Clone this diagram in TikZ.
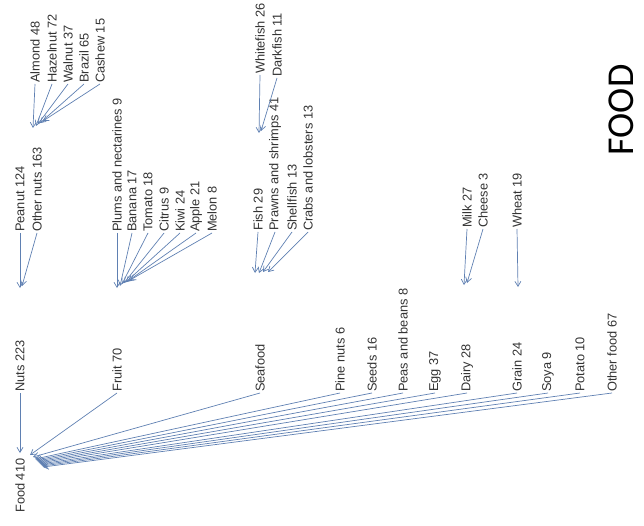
\documentclass[tikz,border=0pt]{standalone}
\usepackage{fontspec}
\setmainfont{Liberation Sans}
\newfontfamily\titlefont{Carlito}
\usetikzlibrary{arrows.meta}
\definecolor{linkblue}{RGB}{95,128,178}

\begin{document}
\begin{tikzpicture}[x=1pt,y=-1pt,
  lbl/.style={rotate=90,anchor=west,inner sep=1pt,text=black!80,font=\fontsize{12.8}{14}\selectfont},
  edge/.style={draw=linkblue,line width=0.7pt,-{Straight Barb[length=5pt,width=6pt]}}]
\useasboundingbox (0,0) rectangle (644,526);

\node[lbl] (food) at (20,514) {Food 410};

\node[lbl] (nuts) at (20,393) {Nuts 223};
\node[lbl] (fruit) at (117,393) {Fruit 70};
\node[lbl] (seafood) at (260,393) {Seafood};
\node[lbl] (pine) at (340,393) {Pine nuts 6};
\node[lbl] (seeds) at (372,393) {Seeds 16};
\node[lbl] (peas) at (403,393) {Peas and beans 8};
\node[lbl] (egg) at (435,393) {Egg 37};
\node[lbl] (dairy) at (467,393) {Dairy 28};
\node[lbl] (grain) at (517,393) {Grain 24};
\node[lbl] (soya) at (548,393) {Soya 9};
\node[lbl] (potato) at (580,393) {Potato 10};
\node[lbl] (otherfood) at (612,393) {Other food 67};

\node[lbl] (peanut) at (20,233) {Peanut 124};
\node[lbl] (othernuts) at (37,233) {Other nuts 163};

\node[lbl] (plums) at (117,233) {Plums and nectarines 9};
\node[lbl] (banana) at (132,233) {Banana 17};
\node[lbl] (tomato) at (148,233) {Tomato 18};
\node[lbl] (citrus) at (164,233) {Citrus 9};
\node[lbl] (kiwi) at (180,233) {Kiwi 24};
\node[lbl] (apple) at (196,233) {Apple 21};
\node[lbl] (melon) at (212,233) {Melon 8};

\node[lbl] (fish) at (258,232) {Fish 29};
\node[lbl] (prawns) at (275,232) {Prawns and shrimps 41};
\node[lbl] (shellfish) at (292,232) {Shellfish 13};
\node[lbl] (crabs) at (308,232) {Crabs and lobsters 13};

\node[lbl] (milk) at (467,229) {Milk 27};
\node[lbl] (cheese) at (483,229) {Cheese 3};
\node[lbl] (wheat) at (517,229) {Wheat 19};

\node[lbl] (almond) at (35,84) {Almond 48};
\node[lbl] (hazelnut) at (52,84) {Hazelnut 72};
\node[lbl] (walnut) at (68,84) {Walnut 37};
\node[lbl] (brazil) at (84,84) {Brazil 65};
\node[lbl] (cashew) at (100,84) {Cashew 15};

\node[lbl] (whitefish) at (260,75) {Whitefish 26};
\node[lbl] (darkfish) at (277,78) {Darkfish 11};

\node[rotate=90,inner sep=0pt,font=\titlefont\fontsize{38}{42}\selectfont] (title) at (621,110) {FOOD};

% arrow tips
\coordinate (a1) at (20,453);
\coordinate (a2) at (30,455);
\coordinate (a3) at (33,457);
\coordinate (a4) at (35,459);
\coordinate (a5) at (36,460);
\coordinate (a6) at (37,461);
\coordinate (a7) at (38,462);
\coordinate (a8) at (39,463);
\coordinate (a9) at (40,464);
\coordinate (a10) at (41,465);
\coordinate (a11) at (42,466);
\coordinate (a12) at (43,467);

\coordinate (n1) at (20,288);
\coordinate (n2) at (22,286);
\coordinate (o1) at (33,128);
\coordinate (o2) at (36,126);
\coordinate (o3) at (38,124);
\coordinate (o4) at (40,123);
\coordinate (o5) at (43,121);

\coordinate (r1) at (117,288);
\coordinate (r2) at (120,286);
\coordinate (r3) at (122,284);
\coordinate (r4) at (124,283);
\coordinate (r5) at (126,282);
\coordinate (r6) at (128,281);
\coordinate (r7) at (130,280);

\coordinate (s1) at (255,273);
\coordinate (s2) at (259,273);
\coordinate (s3) at (263,272);
\coordinate (s4) at (268,272);
\coordinate (w1) at (259,133);
\coordinate (w2) at (261,131);

\coordinate (d1) at (464,285);
\coordinate (d2) at (467,283);
\coordinate (g1) at (518,287);

\foreach \c/\t in {nuts/a1,fruit/a2,seafood/a3,pine/a4,seeds/a5,peas/a6,egg/a7,dairy/a8,grain/a9,soya/a10,potato/a11,otherfood/a12,
  peanut/n1,othernuts/n2,almond/o1,hazelnut/o2,walnut/o3,brazil/o4,cashew/o5,
  plums/r1,banana/r2,tomato/r3,citrus/r4,kiwi/r5,apple/r6,melon/r7,
  fish/s1,prawns/s2,shellfish/s3,crabs/s4,whitefish/w1,darkfish/w2,
  milk/d1,cheese/d2,wheat/g1}
  \draw[edge] (\c.west) -- (\t);
\end{tikzpicture}
\end{document}
